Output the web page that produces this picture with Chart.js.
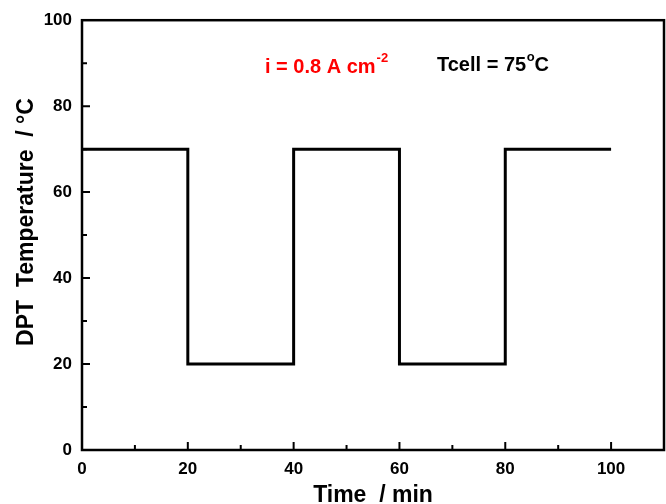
<!DOCTYPE html>
<html>
<head>
<meta charset="utf-8">
<script src="https://cdn.jsdelivr.net/npm/chart.js@4.4.1/dist/chart.umd.min.js"></script>
<style>
html,body{margin:0;padding:0;background:#fff;}
#wrap{width:666px;height:504px;position:relative;}
</style>
</head>
<body>
<div id="wrap"><canvas id="c" width="666" height="504"></canvas></div>
<script>
// Data (time in min, DPT temperature in °C)
const timeMin = [0, 20, 20, 40, 40, 60, 60, 80, 80, 100];
const dptTemp = [70, 70, 20, 20, 70, 70, 20, 20, 70, 70];
const xTickValues = [0, 20, 40, 60, 80, 100];
const yTickValues = [0, 20, 40, 60, 80, 100];
const xTitle = 'Time  / min';
const yTitle = 'DPT  Temperature  / °C';
const FONT = 'Arial, "Liberation Sans", sans-serif';

const points = timeMin.map((t, i) => ({x: t, y: dptTemp[i]}));

const framePlugin = {
  id: 'frame',
  afterDraw(chart) {
    const {ctx, chartArea: a, scales: {x, y}} = chart;
    ctx.save();
    ctx.strokeStyle = '#000';
    ctx.lineWidth = 2.5;
    ctx.strokeRect(a.left, a.top, a.right - a.left, a.bottom - a.top);
    // inward ticks
    ctx.lineWidth = 2;
    ctx.beginPath();
    for (let v = 0; v <= 110; v += 10) {
      const px = x.getPixelForValue(v);
      if (px <= a.left + 1 || px >= a.right - 1) continue;
      const len = (v % 20 === 0) ? 8 : 5;
      ctx.moveTo(px, a.bottom); ctx.lineTo(px, a.bottom - len);
    }
    for (let v = 0; v <= 100; v += 10) {
      const py = y.getPixelForValue(v);
      if (py >= a.bottom - 1 || py <= a.top + 1) continue;
      const len = (v % 20 === 0) ? 8 : 5;
      ctx.moveTo(a.left, py); ctx.lineTo(a.left + len, py);
    }
    ctx.stroke();

    // axis titles
    ctx.fillStyle = '#000';
    ctx.font = 'bold 23px ' + FONT;
    ctx.textAlign = 'center';
    ctx.textBaseline = 'alphabetic';
    ctx.fillText(xTitle, (a.left + a.right) / 2, 502);
    ctx.save();
    ctx.translate(33, 222);
    ctx.rotate(-Math.PI / 2);
    ctx.fillText(yTitle, 0, 0);
    ctx.restore();

    // annotations
    ctx.textAlign = 'left';
    ctx.font = 'bold 20px ' + FONT;
    ctx.fillStyle = '#ff0000';
    let tx = 265, by = 73;
    const s1 = 'i = 0.8 A cm';
    ctx.fillText(s1, tx, by);
    tx += ctx.measureText(s1).width + 1;
    ctx.font = 'bold 13px ' + FONT;
    ctx.fillText('-2', tx, by - 11);

    ctx.fillStyle = '#000';
    ctx.font = 'bold 20px ' + FONT;
    tx = 437; by = 71;
    const s2 = 'Tcell = 75';
    ctx.fillText(s2, tx, by);
    tx += ctx.measureText(s2).width + 0.5;
    ctx.font = 'bold 13px ' + FONT;
    ctx.fillText('o', tx, by - 10);
    tx += ctx.measureText('o').width;
    ctx.font = 'bold 20px ' + FONT;
    ctx.fillText('C', tx, by);
    ctx.restore();
  }
};

new Chart(document.getElementById('c'), {
  type: 'line',
  data: {
    datasets: [{
      data: points,
      borderColor: '#000',
      borderWidth: 3,
      pointRadius: 0,
      fill: false,
      tension: 0,
      borderJoinStyle: 'miter'
    }]
  },
  options: {
    responsive: false,
    animation: false,
    events: [],
    layout: {padding: {top: 19, right: 2, left: 0, bottom: 0}},
    plugins: {legend: {display: false}, tooltip: {enabled: false}},
    scales: {
      x: {
        type: 'linear', min: 0, max: 110,
        grid: {display: false, drawTicks: false},
        border: {display: false},
        afterBuildTicks: s => { s.ticks = xTickValues.map(v => ({value: v})); },
        afterFit: s => { s.height = 54; },
        ticks: {color: '#000', padding: 9, maxRotation: 0, font: {family: FONT, size: 17, weight: 'bold'}}
      },
      y: {
        type: 'linear', min: 0, max: 100,
        grid: {display: false, drawTicks: false},
        border: {display: false},
        afterBuildTicks: s => { s.ticks = yTickValues.map(v => ({value: v})); },
        afterFit: s => { s.width = 82; },
        ticks: {color: '#000', padding: 10, font: {family: FONT, size: 17, weight: 'bold'}}
      }
    }
  },
  plugins: [framePlugin]
});
</script>
</body>
</html>
